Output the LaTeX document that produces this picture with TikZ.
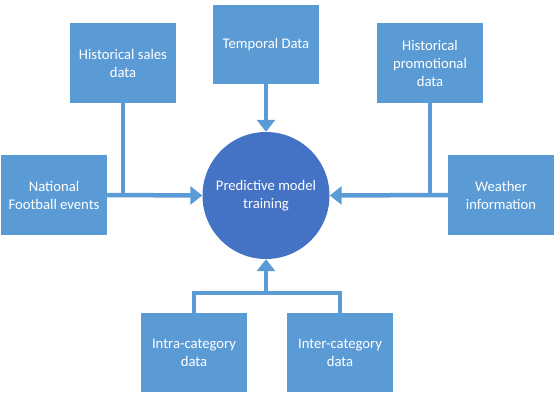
\documentclass[tikz,border=0pt]{standalone}
\usepackage{fontspec}
\setmainfont{Carlito}
\usetikzlibrary{arrows.meta}
\definecolor{boxblue}{HTML}{5B9BD5}
\definecolor{circblue}{HTML}{4472C4}
\tikzset{
  databox/.style={rectangle, fill=boxblue, draw=none, minimum width=106pt, minimum height=80pt,
    text=white, align=center, font=\fontsize{14.67}{18}\selectfont, inner sep=2pt},
  hub/.style={circle, fill=circblue, draw=none, minimum size=127pt, inner sep=0pt,
    text=white, align=center, font=\fontsize{14.67}{18}\selectfont},
  conn/.style={draw=boxblue, line width=4.5pt},
  arr/.style={conn, -{Triangle[length=12pt,width=18pt]}}
}
\begin{document}
\begin{tikzpicture}[x=1pt,y=-1pt]
\useasboundingbox (0,0) rectangle (556,410);
\node[databox] (hs) at (123,63) {Historical sales\\data};
\node[databox, minimum height=79pt] (td) at (266,44.5) {Temporal Data};
\node[databox] (hp) at (430,63) {Historical\\promotional\\data};
\node[databox] (nf) at (54,195) {National\\Football events};
\node[databox] (wi) at (501,195) {Weather\\information};
\node[hub] (pm) at (266,195.5) {Predictive model\\training};
\node[databox, minimum height=79pt] (ia) at (194,352.5) {Intra-category\\data};
\node[databox, minimum height=79pt] (ie) at (340,352.5) {Inter-category\\data};
\coordinate (bj) at (266,293);

\draw[conn] (hs.south) -- (hs.south |- nf.east);
\draw[arr] (nf.east) -- (pm.west);
\draw[arr] (td.south) -- (pm.north);
\draw[conn] (hp.south) -- (hp.south |- wi.west);
\draw[arr] (wi.west) -- (pm.east);
\draw[conn, line join=miter] (ia.north) -- (ia.north |- bj) -- (ie.north |- bj) -- (ie.north);
\draw[arr] (bj) -- (pm.south);
\end{tikzpicture}
\end{document}
